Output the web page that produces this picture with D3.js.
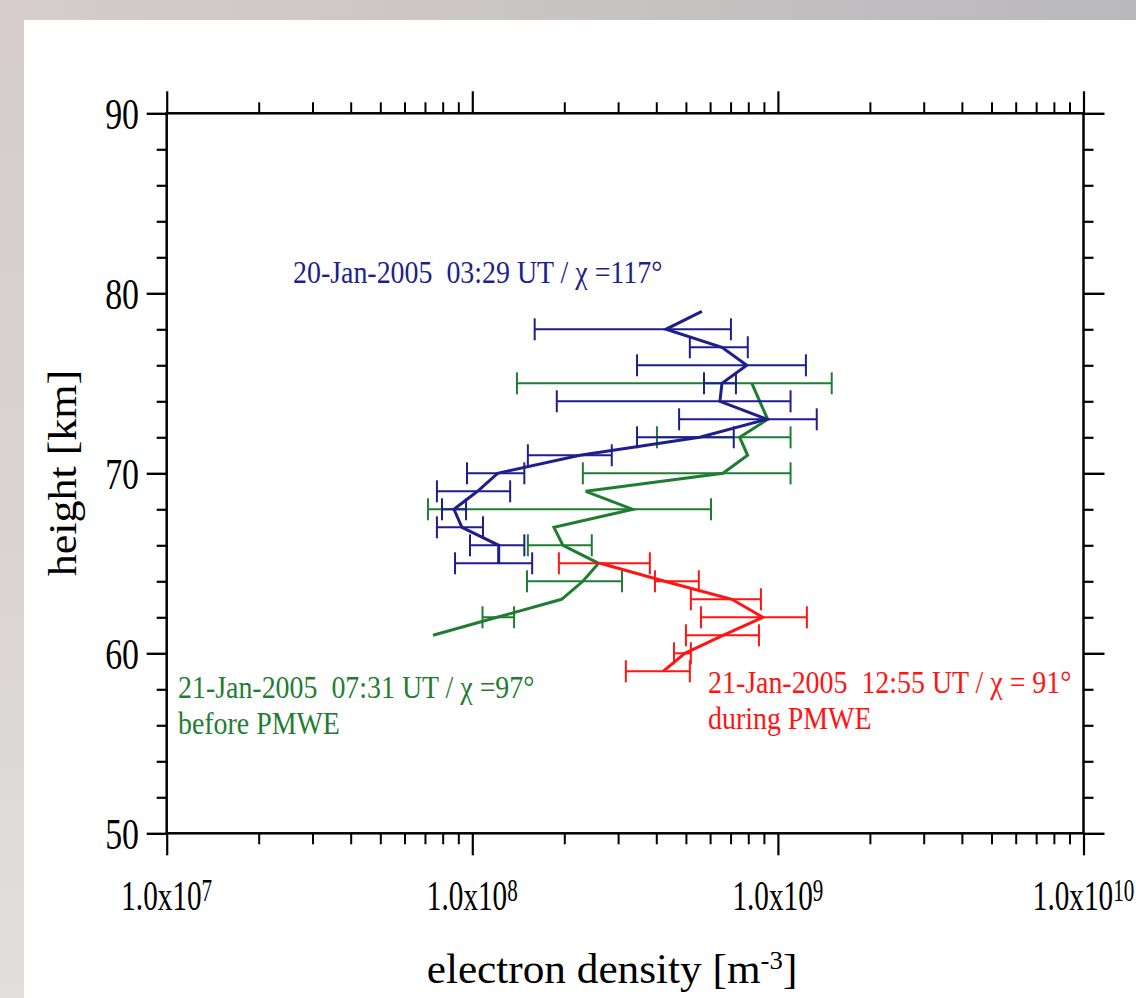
<!DOCTYPE html>
<html><head><meta charset="utf-8">
<script src="https://cdn.jsdelivr.net/npm/d3@7"></script>
<style>
html,body{margin:0;padding:0;background:#fff;overflow:hidden;}
svg{display:block;}
text{font-family:"Liberation Serif","Times New Roman",serif;white-space:pre;}
</style></head><body>
<svg id="chart" width="1136" height="998"></svg>
<script>
// ---------- data ----------
const blueHeights = [79,78,77,76,75,74,73,72,71,70,69,68,67,66,65];
const blueDensity = [5.64e8,4.30e8,6.56e8,7.91e8,6.56e8,6.46e8,9.20e8,5.55e8,2.25e8,1.21e8,1.04e8,8.71e7,9.25e7,1.22e8,1.22e8];
const blueLow  = [null,1.60e8,5.15e8,3.46e8,5.73e8,1.89e8,4.75e8,3.46e8,1.52e8,9.61e7,7.66e7,7.96e7,7.66e7,9.83e7,8.78e7];
const blueHigh = [null,7.02e8,7.97e8,1.235e9,7.29e8,1.10e9,1.34e9,7.17e8,2.86e8,1.48e8,1.33e8,9.54e7,1.084e8,1.48e8,1.57e8];

const greenHeights = [75,74,73,72,71,70,69,68,67,66,65,64,63,62,61];
const greenDensity = [8.22e8,8.72e8,9.26e8,7.50e8,7.96e8,6.61e8,2.35e8,3.35e8,1.85e8,1.98e8,2.59e8,2.30e8,1.96e8,1.205e8,7.44e7];
const greenLow  = [1.40e8,null,null,4.02e8,null,2.30e8,null,7.16e7,null,1.52e8,null,1.51e8,null,1.08e8,null];
const greenHigh = [1.50e9,null,null,1.10e9,null,1.10e9,null,6.04e8,null,2.46e8,null,3.09e8,null,1.37e8,null];

const redHeights = [65,64,63,62,61,60,59];
const redDensity = [2.62e8,4.26e8,7.07e8,8.93e8,6.61e8,4.96e8,4.21e8];
const redLow  = [1.92e8,3.96e8,5.19e8,5.60e8,5.00e8,4.57e8,3.18e8];
const redHigh = [3.81e8,5.51e8,8.80e8,1.244e9,8.67e8,5.19e8,5.15e8];

const xMajorTicks = [1e7,1e8,1e9,1e10];
const xTickExponents = ["7","8","9","10"];
const yMajorTicks = [90,80,70,60,50];
const yTickLabels = ["90","80","70","60","50"];

const blueLabel = "20-Jan-2005  03:29 UT / \u03c7 =117\u00b0";
const greenLabel = ["21-Jan-2005  07:31 UT / \u03c7 =97\u00b0","before PMWE"];
const redLabel = ["21-Jan-2005  12:55 UT / \u03c7 = 91\u00b0","during PMWE"];

// ---------- layout ----------
const svg = d3.select("#chart");
const L = 166.7, R = 1083.5, T = 113.3, B = 833.3;
const x = d3.scaleLog().domain([1e7,1e10]).range([L,R]);
const y = d3.scaleLinear().domain([50,90]).range([B,T]);

const COL_BLUE = "#1e1e8c", COL_GREEN = "#1f7d32", COL_RED = "#ff1414";

// background
const defs = svg.append("defs");
const gTop = defs.append("linearGradient").attr("id","gTop").attr("x1",0).attr("x2",1).attr("y1",0).attr("y2",0);
gTop.append("stop").attr("offset","0").attr("stop-color","#d6cdcc");
gTop.append("stop").attr("offset","0.45").attr("stop-color","#c9c5c3");
gTop.append("stop").attr("offset","1").attr("stop-color","#b9b8bd");
const gLeft = defs.append("linearGradient").attr("id","gLeft").attr("x1",0).attr("x2",0).attr("y1",0).attr("y2",1);
gLeft.append("stop").attr("offset","0").attr("stop-color","#d6cdcc");
gLeft.append("stop").attr("offset","0.5").attr("stop-color","#d8d3d1");
gLeft.append("stop").attr("offset","1").attr("stop-color","#e2dfdc");
svg.append("rect").attr("x",0).attr("y",0).attr("width",1136).attr("height",998).attr("fill","#fff");
svg.append("rect").attr("x",0).attr("y",0).attr("width",1136).attr("height",20).attr("fill","url(#gTop)");
svg.append("rect").attr("x",0).attr("y",20).attr("width",24).attr("height",978).attr("fill","url(#gLeft)");

// axes
const xMinor = [];
[1e7,1e8,1e9].forEach(d => { for (let k=2;k<=9;k++) xMinor.push(d*k); });
const yMinor = d3.range(52,90,2).filter(v => v % 10 !== 0);

function styleAxis(g, w){
  g.selectAll("path.domain").remove();
  g.selectAll(".tick line").attr("stroke","#000").attr("stroke-width",w);
  g.selectAll(".tick text").remove();
}
svg.append("g").attr("transform",`translate(0,${B})`).call(d3.axisBottom(x).tickValues(xMajorTicks).tickSize(22).tickSizeOuter(0)).call(g=>styleAxis(g,2.2));
svg.append("g").attr("transform",`translate(0,${B})`).call(d3.axisBottom(x).tickValues(xMinor).tickSize(11).tickSizeOuter(0)).call(g=>styleAxis(g,2));
svg.append("g").attr("transform",`translate(0,${T})`).call(d3.axisTop(x).tickValues(xMajorTicks).tickSize(22).tickSizeOuter(0)).call(g=>styleAxis(g,2.2));
svg.append("g").attr("transform",`translate(0,${T})`).call(d3.axisTop(x).tickValues(xMinor).tickSize(11).tickSizeOuter(0)).call(g=>styleAxis(g,2));
svg.append("g").attr("transform",`translate(${L},0)`).call(d3.axisLeft(y).tickValues(yMajorTicks).tickSize(20).tickSizeOuter(0)).call(g=>styleAxis(g,2.4));
svg.append("g").attr("transform",`translate(${L},0)`).call(d3.axisLeft(y).tickValues(yMinor).tickSize(10).tickSizeOuter(0)).call(g=>styleAxis(g,2.2));
svg.append("g").attr("transform",`translate(${R},0)`).call(d3.axisRight(y).tickValues(yMajorTicks).tickSize(21).tickSizeOuter(0)).call(g=>styleAxis(g,2.4));
svg.append("g").attr("transform",`translate(${R},0)`).call(d3.axisRight(y).tickValues(yMinor).tickSize(10).tickSizeOuter(0)).call(g=>styleAxis(g,2.2));
svg.append("rect").attr("x",L).attr("y",T).attr("width",R-L).attr("height",B-T)
  .attr("fill","none").attr("stroke","#000").attr("stroke-width",2.5);

// tick labels
function sText(px,py,sx,anchor,size,color){
  return svg.append("text").attr("transform",`translate(${px},${py}) scale(${sx},1)`)
    .attr("text-anchor",anchor).attr("font-size",size).attr("fill",color);
}
yMajorTicks.forEach((v,i)=>{
  sText(139, y(v)+16, 0.77, "end", 44, "#000").text(yTickLabels[i]);
});
xMajorTicks.forEach((v,i)=>{
  const t = sText(x(v), 910, 0.68, "middle", 43, "#000");
  t.append("tspan").text("1.0x10");
  t.append("tspan").attr("font-size",31).attr("dy",-9).text(xTickExponents[i]);
});

// axis titles
const xt = sText(612, 983, 1.03, "middle", 42, "#000");
xt.append("tspan").text("electron density [m");
xt.append("tspan").attr("font-size",26).attr("dy",-14).text("-3");
xt.append("tspan").attr("dy",14).text("]");
svg.append("text").attr("transform","translate(76,473) rotate(-90) scale(1.1,1)")
  .attr("text-anchor","middle").attr("font-size",40).attr("fill","#000").text("height [km]");

// series
function drawSeries(hs, vals, lo, hi, color){
  const g = svg.append("g");
  const cap = 11;
  hs.forEach((h,i)=>{
    if (lo[i]==null || hi[i]==null) return;
    const yy = y(h), x0 = x(lo[i]), x1 = x(hi[i]);
    g.append("line").attr("x1",x0).attr("x2",x1).attr("y1",yy).attr("y2",yy).attr("stroke",color).attr("stroke-width",2);
    g.append("line").attr("x1",x0).attr("x2",x0).attr("y1",yy-cap).attr("y2",yy+cap).attr("stroke",color).attr("stroke-width",2);
    g.append("line").attr("x1",x1).attr("x2",x1).attr("y1",yy-cap).attr("y2",yy+cap).attr("stroke",color).attr("stroke-width",2);
  });
  const line = d3.line().x(i=>x(vals[i])).y(i=>y(hs[i]));
  g.append("path").attr("d",line(d3.range(hs.length))).attr("fill","none")
    .attr("stroke",color).attr("stroke-width",3).attr("stroke-linejoin","miter");
}
drawSeries(greenHeights, greenDensity, greenLow, greenHigh, COL_GREEN);
drawSeries(blueHeights, blueDensity, blueLow, blueHigh, COL_BLUE);
drawSeries(redHeights, redDensity, redLow, redHigh, COL_RED);

// annotations
sText(293, 283, 0.9, "start", 31, COL_BLUE).text(blueLabel);
sText(178, 698, 0.9, "start", 31, COL_GREEN).text(greenLabel[0]);
sText(178, 734, 0.9, "start", 31, COL_GREEN).text(greenLabel[1]);
sText(708, 693, 0.9, "start", 31, COL_RED).text(redLabel[0]);
sText(708, 729, 0.9, "start", 31, COL_RED).text(redLabel[1]);
</script>
</body></html>
